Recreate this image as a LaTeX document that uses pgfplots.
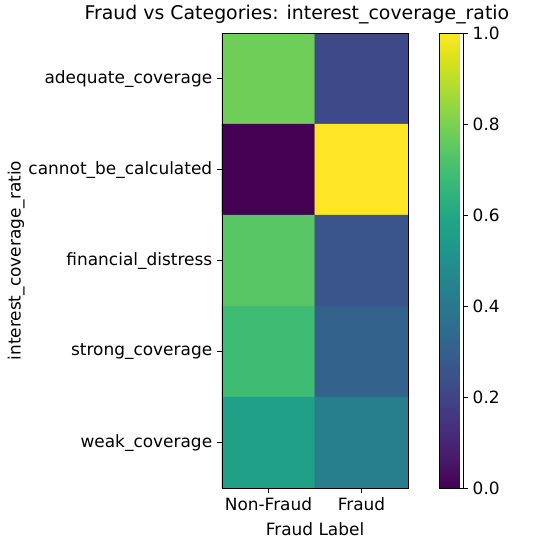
\documentclass[border=0pt]{standalone}
\usepackage{fontspec}
\setmainfont{DejaVu Sans}
\usepackage{pgfplots}
\pgfplotsset{compat=1.18}

\begin{document}
\begin{tikzpicture}
\path[use as bounding box] (-159.8pt,-40.3pt) rectangle (236.2pt,351.4pt);
\begin{axis}[
	name=main,
	at={(0,0)}, anchor=south west,
	scale only axis,
	width=134pt, height=327.6pt,
	xmin=-0.5, xmax=1.5,
	ymin=-0.5, ymax=4.5,
	y dir=reverse,
	enlargelimits=false,
	axis on top,
	xtick={0,1},
	xticklabels={Non-Fraud, Fraud},
	ytick={0,1,2,3,4},
	yticklabels={adequate\_coverage, cannot\_be\_calculated, financial\_distress, strong\_coverage, weak\_coverage},
	xtick pos=left, ytick pos=left,
	tick align=outside,
	major tick length=3.5pt,
	tick style={black, line width=0.6pt},
	axis line style={line width=0.6pt},
	tick label style={font=\fontsize{12.2}{14}\selectfont},
	label style={font=\fontsize{12.2}{14}\selectfont},
	xlabel={Fraud Label},
	ylabel={interest\_coverage\_ratio},
	title={Fraud vs Categories: interest\_coverage\_ratio},
	title style={font=\fontsize{13.6}{16}\selectfont, at={(0.5,1)}, anchor=base, xshift=-13pt, yshift=4pt},
	xlabel style={at={(0.5,0)}, anchor=base, yshift=-34pt},
	ylabel shift=-4pt,
	colormap/viridis,
	point meta min=0, point meta max=1,
	colorbar,
	colorbar style={
		at={(parent axis.north east)}, anchor=north west, xshift=14.4pt,
		width=16.6pt,
		scale only axis,
		ytick={0,0.2,0.4,0.6,0.8,1.0},
		ytick pos=right,
		yticklabel pos=right,
		yticklabel style={font=\fontsize{12.2}{14}\selectfont, /pgf/number format/fixed, /pgf/number format/precision=1, /pgf/number format/fixed zerofill, /pgf/number format/assume math mode=true},
		major tick length=3.5pt,
		tick align=outside,
		tick style={black, line width=0.6pt},
		axis line style={line width=0.6pt},
	},
]
\addplot[matrix plot*, mesh/cols=2, point meta=explicit] table[meta=c] {
x y c
0 0 0.78
1 0 0.22
0 1 0.00
1 1 1.00
0 2 0.74
1 2 0.26
0 3 0.69
1 3 0.31
0 4 0.57
1 4 0.43
};
\end{axis}
\end{tikzpicture}
\end{document}
